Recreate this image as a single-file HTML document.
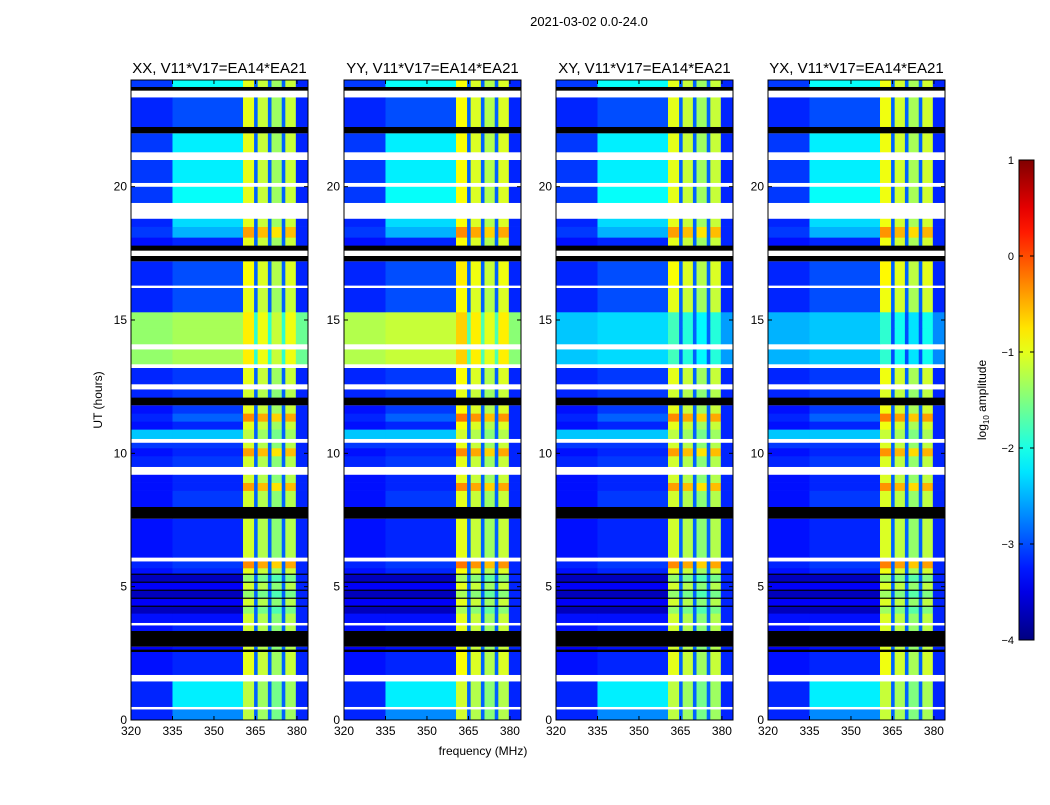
<!DOCTYPE html>
<html><head><meta charset="utf-8"><style>
body{margin:0;background:#fff;font-family:"Liberation Sans",sans-serif;}
#wrap{position:relative;width:1050px;height:800px;}
</style></head><body><div id="wrap">
<svg id="svg" width="1050" height="800" xmlns="http://www.w3.org/2000/svg"></svg>
</div>
<script>
// ---- data ----
const panelTitles = ["XX, V11*V17=EA14*EA21","YY, V11*V17=EA14*EA21","XY, V11*V17=EA14*EA21","YX, V11*V17=EA14*EA21"];
const xTicks = [320,335,350,365,380];
const yTicks = [0,5,10,15,20];
const cbTicks = [1,0,-1,-2,-3,-4];
// time segments (hours): kind d=data, w=flagged white, k=black, b=bright block
const segStart = [0,0.4,0.5,1.45,1.7,2.55,2.65,2.75,3.0,3.35,3.55,3.65,4.0,4.3,4.6,4.9,5.2,5.5,5.7,5.95,6.1,7.55,8.0,8.6,8.9,9.2,9.5,9.9,10.2,10.4,10.55,10.9,11.2,11.5,11.8,12.1,12.4,12.6,13.2,13.35,13.9,14.1,14.7,15.0,15.3,16.2,16.3,17.2,17.4,17.6,17.8,18.1,18.5,18.8,19.0,19.4,20.0,20.15,21.0,21.3,22.0,22.25,23.35,23.6,23.75];
const segEnd   = [0.4,0.5,1.45,1.7,2.55,2.65,2.75,3.0,3.35,3.55,3.65,4.0,4.3,4.6,4.9,5.2,5.5,5.7,5.95,6.1,7.55,8.0,8.6,8.9,9.2,9.5,9.9,10.2,10.4,10.55,10.9,11.2,11.5,11.8,12.1,12.4,12.6,13.2,13.35,13.9,14.1,14.7,15.0,15.3,16.2,16.3,17.2,17.4,17.6,17.8,18.1,18.5,18.8,19.0,19.4,20.0,20.15,21.0,21.3,22.0,22.25,23.35,23.6,23.75,24.0];
const segKind  = ["d","w","d","w","d","k","d","k","k","d","w","d","d","d","d","d","d","d","d","w","d","k","d","d","d","w","d","d","d","w","d","d","d","d","k","d","w","d","w","b","w","b","b","b","d","w","d","k","w","k","d","d","d","w","w","d","w","d","w","d","k","d","w","k","d"];
const lowLevel = [-3.2,0,-3.2,0,-3.3,0,-3.4,0,0,-3.3,0,-3.3,-3.7,-3.4,-3.7,-3.4,-3.7,-3.3,-3.2,0,-3.3,0,-3.3,-3.3,-3.3,0,-3.2,-3.3,-3.1,0,-2.4,-3.3,-3.2,-3.3,0,-3.2,0,-3.2,0,-1.4,0,-1.3,-1.4,-1.2,-3.2,0,-3.2,0,0,0,-3.3,-3.1,-3.2,0,0,-3.1,0,-3.1,0,-3.1,0,-3.2,0,0,-3.1];
const midLevel = [-2.7,0,-2.2,0,-3.2,0,-3.3,0,0,-3.2,0,-3.3,-3.7,-3.4,-3.7,-3.4,-3.7,-3.2,-3.1,0,-3.2,0,-3.1,-3.2,-3.2,0,-3.1,-3.2,-3.1,0,-2.4,-3.2,-2.9,-3.1,0,-3.1,0,-3.1,0,-1.3,0,-1.2,-1.4,-1.2,-3.0,0,-3.0,0,0,0,-3.2,-2.5,-2.3,0,0,-2.1,0,-2.2,0,-2.2,0,-3.0,0,0,-2.1];
const highLevel = [-1.4,0,-1.4,0,-1.2,0,-1.3,0,0,-1.3,0,-1.3,-1.6,-1.3,-1.6,-1.3,-1.6,-1.2,-0.5,0,-1.3,0,-1.3,-0.6,-1.3,0,-1.3,-0.6,-1.3,0,-1.4,-1.2,-0.5,-1.2,0,-1.3,0,-1.2,0,-1.2,0,-1.1,-0.8,-1.0,-1.2,0,-1.1,0,0,0,-1.2,-0.6,-1.2,0,0,-1.2,0,-1.2,0,-1.2,0,-1.2,0,0,-1.2];
// panel-specific level of the bright 13.3-15.3 h block (kind b)
const brightLevel = [-1.3,-1.15,-2.3,-2.4];
const panelHighShift = [0,0.1,0,0.05];
// frequency bands (MHz)
const bandStart = [320,335,360.5,364.5,365.8,369.5,370.8,374.5,375.8,379.6];
const bandEnd   = [335,360.5,364.5,365.8,369.5,370.8,374.5,375.8,379.6,384];
const bandType  = ["low","mid","high","gap","high","gap","high","gap","high","edge"];
const bandOffset= [0,0,0.2,0,0.05,0,-0.15,0,0.05,0];

// ---- helpers ----
const NS="http://www.w3.org/2000/svg";
const svg=document.getElementById('svg');
function mk(tag,attrs,parent){const e=document.createElementNS(NS,tag);for(const k in attrs)e.setAttribute(k,attrs[k]);(parent||svg).appendChild(e);return e;}
function jet(v){let t=(v+4)/5;t=Math.max(0,Math.min(1,t));
 const r=Math.max(0,Math.min(1,1.5-Math.abs(4*t-3))),g=Math.max(0,Math.min(1,1.5-Math.abs(4*t-2))),b=Math.max(0,Math.min(1,1.5-Math.abs(4*t-1)));
 return `rgb(${Math.round(r*255)},${Math.round(g*255)},${Math.round(b*255)})`;}
const panelX=[131,344,556,768], PW=177, PT=80, PB=720;
function yScale(h){return PB-(h/24)*(PB-PT);}

const t=mk('text',{x:589,y:26,'font-size':13,'text-anchor':'middle'});t.textContent='2021-03-02 0.0-24.0';



panelX.forEach((px,p)=>{
 const xScale=f=>px+(f-320)/64*PW;
 const g=mk('g',{});
 
 
 for(let i=0;i<segStart.length;i++){
  const y0=yScale(segEnd[i]),y1=yScale(segStart[i]);
  const k=segKind[i];
  if(k==='w'||k==='k'){
   const r=mk('rect',{x:px,y:y0,width:PW,height:y1-y0,fill:k==='w'?'#fff':'#000'},g);
   
   
   continue;}
  for(let b=0;b<bandStart.length;b++){
   let v;const ty=bandType[b];
   if(k==='b'){v=brightLevel[p]+(ty==='high'?0.3+bandOffset[b]:ty==='gap'?-0.6:ty==='edge'?-0.3:(ty==='low'?-0.1:0));}
   else if(ty==='low')v=lowLevel[i];
   else if(ty==='mid')v=midLevel[i];
   else if(ty==='high')v=highLevel[i]+bandOffset[b]+panelHighShift[p];
   else if(ty==='gap')v=-2.9;
   else v=-3.2;
   const r=mk('rect',{x:xScale(bandStart[b]),y:y0,width:xScale(bandEnd[b])-xScale(bandStart[b])+0.3,height:y1-y0+0.3,fill:jet(v)},g);
   
   
  }
  // thin black separator lines within the striped 4-5.5 h region
  if(segStart[i]>=4.0&&segEnd[i]<=5.5){
   const ln=mk('rect',{x:px,y:y0,width:PW,height:1.5,fill:'#000'},g);
   
   
  }
 }
 const fr=mk('rect',{x:px,y:PT,width:PW,height:PB-PT,fill:'none',stroke:'#000','stroke-width':1},g);
 
 
 const tt=mk('text',{x:px+PW/2,y:73,'font-size':15,'text-anchor':'middle'});tt.textContent=panelTitles[p];
 
 
 xTicks.forEach(f=>{const x=xScale(f);
  mk('line',{x1:x,x2:x,y1:PB,y2:PB-4,stroke:'#000'});mk('line',{x1:x,x2:x,y1:PT,y2:PT+4,stroke:'#000'});
  const l=mk('text',{x:x,y:PB+15,'font-size':12,'text-anchor':'middle'});l.textContent=f;
  
  });
 yTicks.forEach(h=>{const y=yScale(h);
  mk('line',{x1:px,x2:px+4,y1:y,y2:y,stroke:'#000'});mk('line',{x1:px+PW,x2:px+PW-4,y1:y,y2:y,stroke:'#000'});
  const l=mk('text',{x:px-4,y:y+4,'font-size':12,'text-anchor':'end'});l.textContent=h;
  
  });
});
let a=mk('text',{x:483,y:755,'font-size':12,'text-anchor':'middle'});a.textContent='frequency (MHz)';


a=mk('text',{x:0,y:0,'font-size':12,'text-anchor':'middle',transform:'translate(102,400) rotate(-90)'});a.textContent='UT (hours)';



// colorbar
const CX=1019,CW=15,CT=160,CB=640;
const defs=mk('defs',{});const lg=mk('linearGradient',{id:'jg',x1:0,y1:1,x2:0,y2:0},defs);
for(let i=0;i<=20;i++){const v=-4+5*i/20;mk('stop',{offset:(i/20),'stop-color':jet(v)},lg);}
const cb=mk('rect',{x:CX,y:CT,width:CW,height:CB-CT,fill:'url(#jg)',stroke:'#000'});


cbTicks.forEach(v=>{const y=CB-(v+4)/5*(CB-CT);
 mk('line',{x1:CX,x2:CX+4,y1:y,y2:y,stroke:'#000'});mk('line',{x1:CX+CW,x2:CX+CW-4,y1:y,y2:y,stroke:'#000'});
 const l=mk('text',{x:CX-5,y:y+4,'font-size':11,'text-anchor':'end'});l.textContent=v<0?'\u2212'+(-v):v;
 
 });
a=mk('text',{x:0,y:0,'font-size':12,'text-anchor':'middle',transform:'translate(986,400) rotate(-90)'});
a.innerHTML='log<tspan font-size="8" dy="3">10</tspan><tspan dy="-3"> amplitude</tspan>';


</script></body></html>
